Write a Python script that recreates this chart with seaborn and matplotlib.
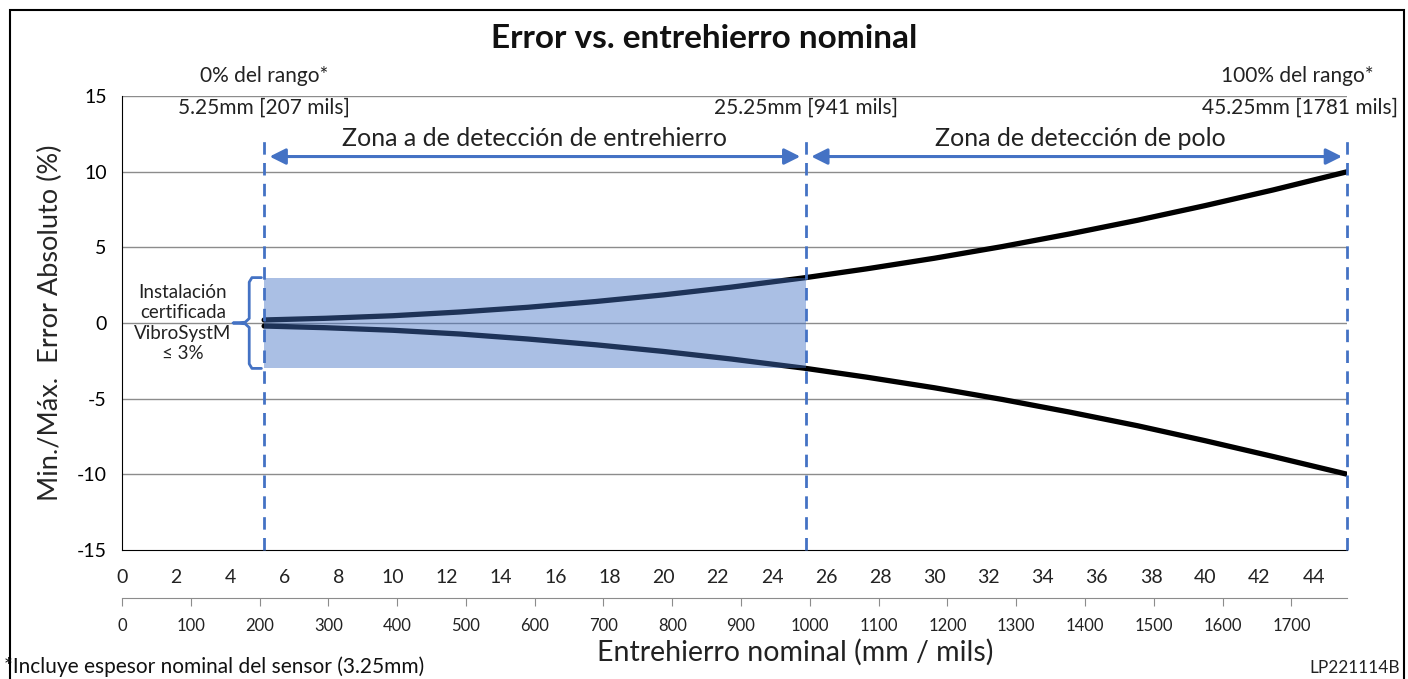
import matplotlib.pyplot as plt
import matplotlib.patches as patches
import seaborn as sns
import pandas as pd

# datos
gap_mm = [5.25, 7.5, 10, 12.5, 15, 17.5, 20, 22.5, 25.25, 27.5, 30, 32.5, 35, 37.5, 40, 42.5, 45.25]
err_max = [0.2, 0.31, 0.48, 0.73, 1.04, 1.42, 1.86, 2.37, 3.0, 3.58, 4.28, 5.05, 5.89, 6.79, 7.76, 8.79, 10.0]
err_min = [-0.2, -0.31, -0.48, -0.73, -1.06, -1.44, -1.88, -2.38, -3.0, -3.58, -4.28, -5.05, -5.89, -6.79, -7.78, -8.82, -10.0]
zonas = [5.25, 25.25, 45.25]
zona_mils = [207, 941, 1781]
certificada = 3.0
mm_ticks = list(range(0, 45, 2))
mils_ticks = list(range(0, 1800, 100))

sns.set_style("white")
plt.rcParams['font.family'] = ['Lato', 'DejaVu Sans']
plt.rcParams['axes.unicode_minus'] = False
azul = '#4472C4'
txt = '#222222'

df = pd.DataFrame({'mm': gap_mm * 2, 'err': err_max + err_min,
                   'serie': ['max'] * len(gap_mm) + ['min'] * len(gap_mm)})

fig = plt.figure(figsize=(14.08, 6.79), dpi=100)
ax = fig.add_axes([0.0866, 0.19, 0.8704, 0.6686])

sns.lineplot(data=df, x='mm', y='err', units='serie', estimator=None,
             color='black', lw=3.8, ax=ax, zorder=3)

# zona sombreada
ax.fill_between([zonas[0], zonas[1]], -certificada, certificada,
                color=azul, alpha=0.45, lw=0, zorder=4)

ax.set_xlim(0, 45.25)
ax.set_ylim(-15, 15)
ax.set_yticks([-15, -10, -5, 0, 5, 10, 15])
ax.set_xticks(mm_ticks)
for yv in [-10, -5, 0, 5, 10, 15]:
    ax.axhline(yv, color='#8c8c8c', lw=1, zorder=1)
for s in ['top', 'right']:
    ax.spines[s].set_visible(False)
ax.spines['left'].set_color('black')
ax.spines['bottom'].set_color('black')
ax.tick_params(axis='x', direction='out', length=7, width=1, labelsize=14, pad=7, colors='black')
ax.tick_params(axis='y', direction='inout', length=10, width=1, labelsize=14, pad=6, colors='black')
ax.tick_params(axis='x', labelcolor=txt)
ax.set_xlabel('')
ax.set_ylabel('Min./Máx.  Error Absoluto (%)', fontsize=19.5, labelpad=10)

# eje secundario en mils
sec = ax.secondary_xaxis(-0.106, functions=(lambda x: x * 1000 / 25.4, lambda m: m * 25.4 / 1000))
sec.set_xticks(mils_ticks)
sec.spines['bottom'].set_color('#8c8c8c')
sec.tick_params(direction='out', length=6, colors='#8c8c8c', labelcolor=txt, labelsize=12, pad=8)

# lineas verticales
for z in zonas:
    ax.plot([z, z], [-15, 12.5], color=azul, lw=2, ls=(0, (4.5, 3)), zorder=5, clip_on=False)

# flechas de zonas
flecha = dict(arrowstyle='<|-|>', color=azul, lw=2.2, mutation_scale=24)
ax.annotate('', xy=(zonas[0] + 0.1, 11), xytext=(zonas[1] - 0.1, 11),
            arrowprops=flecha, zorder=6)
ax.annotate('', xy=(zonas[1] + 0.1, 11), xytext=(zonas[2] - 0.1, 11),
            arrowprops=flecha, annotation_clip=False, zorder=6)
ax.text((zonas[0] + zonas[1]) / 2, 12.2, 'Zona a de detección de entrehierro',
        ha='center', va='center', fontsize=18, color=txt)
ax.text(35.4, 12.2, 'Zona de detección de polo',
        ha='center', va='center', fontsize=18, color=txt)

# etiquetas de rango
ax.text(zonas[0], 16.3, '0% del rango*', ha='center', va='center', fontsize=15, color=txt)
ax.text(zonas[0], 14.2, f'{zonas[0]}mm [{zona_mils[0]} mils]', ha='center', va='center', fontsize=15, color=txt)
ax.text(zonas[1], 14.2, f'{zonas[1]}mm [{zona_mils[1]} mils]', ha='center', va='center', fontsize=15, color=txt)
ax.text(46.2, 16.3, '100% del rango*', ha='right', va='center', fontsize=15, color=txt)
ax.text(47.1, 14.2, f'{zonas[2]}mm [{zona_mils[2]} mils]', ha='right', va='center', fontsize=15, color=txt)

# llave de instalacion certificada
bx = [5.15, 4.8, 4.7, 4.7, 4.55, 4.1, 4.55, 4.7, 4.7, 4.8, 5.15]
by = [certificada, certificada, 2.7, 0.3, 0.05, 0, -0.05, -0.3, -2.7, -certificada, -certificada]
ax.plot(bx, by, color=azul, lw=2, zorder=5, clip_on=False)
ax.text(2.25, 0, 'Instalación\ncertificada\nVibroSystM\n≤ 3%', ha='center', va='center',
        fontsize=13.5, color=txt, linespacing=1.25)

fig.text(0.5, 0.943, 'Error vs. entrehierro nominal', ha='center', va='center',
         fontsize=24, fontweight='bold', color='#111111')
fig.text(0.565, 0.04, 'Entrehierro nominal (mm / mils)', ha='center', va='center',
         fontsize=20.5, color=txt)
fig.text(0.003, 0.018, '*Incluye espesor nominal del sensor (3.25mm)', ha='left', va='center',
         fontsize=15, color='#111111')
fig.text(0.994, 0.016, 'LP221114B', ha='right', va='center', fontsize=12.4, color=txt)

fig.patches.append(patches.Rectangle((0.007, -0.02), 0.99, 1.005, transform=fig.transFigure,
                                     fill=False, edgecolor='black', lw=1.5))

fig.savefig('out.png', dpi=100)
